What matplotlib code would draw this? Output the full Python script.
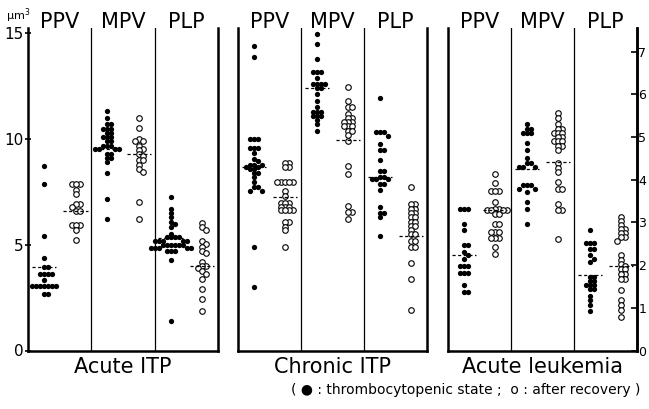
import matplotlib
matplotlib.use("Agg")
import matplotlib.pyplot as plt
import matplotlib.transforms as mtransforms
import numpy as np

plt.rcParams['font.family'] = ['DejaVu Sans']

# ---------------- data (values in µm³ on the left scale) ----------------
panel_titles = ["Acute ITP", "Chronic ITP", "Acute leukemia"]
column_labels = ["PPV", "MPV", "PLP"]

# Acute ITP
aitp_ppv_f = [8.72, 7.89, 5.40, 4.39, 3.94, 3.94, 3.63, 3.63, 3.63, 3.63, 3.35,
              3.03, 3.03, 3.03, 3.03, 3.03, 3.03, 3.03, 2.65, 2.65]
aitp_ppv_o = [7.89, 7.89, 7.89, 7.6, 7.42, 6.94, 6.94, 6.78, 6.59, 6.59,
              5.96, 5.96, 5.96, 5.71, 5.24]
aitp_mpv_f = [11.35, 11.0, 10.7, 10.7, 10.5, 10.5, 10.5, 10.3, 10.3, 10.1, 10.1, 10.1,
              9.9, 9.9, 9.7, 9.7, 9.7, 9.55, 9.55, 9.55, 9.55, 9.3, 9.3, 9.1, 9.1,
              8.9, 8.4, 7.15, 6.2]
aitp_mpv_o = [11.0, 10.55, 10.0, 9.9, 9.9, 9.7, 9.55, 9.5, 9.3, 9.2, 9.0, 9.0,
              8.8, 8.6, 8.45, 7.02, 6.23]
aitp_plp_f = [7.26, 6.7, 6.5, 6.3, 6.1, 6.0, 5.84, 5.53, 5.36, 5.36, 5.36, 5.36,
              5.2, 5.2, 5.2, 5.2, 5.2, 5.0, 5.0, 5.0, 5.0, 5.0, 5.0,
              4.85, 4.85, 4.85, 4.85, 4.85, 4.7, 4.7, 4.7, 4.26, 1.39]
aitp_plp_o = [6.03, 5.84, 5.68, 5.2, 5.05, 4.9, 4.73, 4.6, 4.18, 3.98, 3.98, 3.9,
              3.75, 3.6, 3.4, 2.92, 2.45, 1.85]
aitp_means_f = [3.96, 9.55, 5.33]
aitp_means_o = [6.6, 9.28, 3.98]

# Chronic ITP
citp_ppv_f = [14.4, 13.9, 10.0, 10.0, 10.0, 9.6, 9.6, 9.6, 9.34, 9.07, 8.96,
              8.8, 8.8, 8.8, 8.68, 8.68, 8.6, 8.6, 8.4, 8.4, 8.2, 7.95, 7.73, 7.73,
              7.57, 7.57, 4.92, 3.0]
citp_ppv_o = [8.86, 8.86, 8.68, 8.68, 7.97, 7.97, 7.97, 7.97, 7.97, 7.57, 7.3,
              6.97, 6.97, 6.97, 6.8, 6.8, 6.8, 6.63, 6.63, 6.63, 6.63,
              6.07, 6.07, 5.85, 5.68, 4.92]
citp_mpv_f = [14.99, 14.48, 13.8, 13.2, 13.2, 13.2, 12.9, 12.6, 12.6, 12.6, 12.6,
              12.43, 12.43, 12.15, 11.8, 11.5, 11.3, 11.3, 11.3, 11.1, 11.1, 11.1,
              10.9, 10.7, 10.4]
citp_mpv_o = [12.49, 11.8, 11.5, 11.5, 11.2, 11.0, 11.0, 10.8, 10.8, 10.8,
              10.6, 10.6, 10.6, 10.4, 10.4, 10.2, 9.9, 8.75, 8.36, 6.86, 6.55, 6.55, 6.2]
citp_plp_f = [11.96, 10.33, 10.33, 10.33, 10.17, 9.78, 9.47, 9.47, 9.0, 8.5, 8.5,
              8.23, 8.23, 8.1, 8.1, 8.1, 7.9, 7.9, 7.6, 6.78, 6.5, 6.5, 6.3, 5.44]
citp_plp_o = [7.76, 6.95, 6.95, 6.7, 6.7, 6.5, 6.5, 6.3, 6.3, 6.1, 6.1, 5.9, 5.9,
              5.7, 5.5, 5.5, 5.2, 5.2, 4.9, 4.9, 4.13, 3.39, 1.93]
citp_means_f = [8.68, 12.43, 8.23]
citp_means_o = [7.26, 9.97, 5.44]

# Acute leukemia
al_ppv_f = [6.7, 6.7, 6.7, 6.0, 5.7, 4.97, 4.97, 4.65, 4.5, 4.34, 4.02, 4.02, 4.02,
            3.66, 3.66, 3.66, 3.08, 2.76, 2.76]
al_ppv_o = [8.36, 7.92, 7.57, 7.57, 7.57, 7.02, 6.7, 6.7, 6.63, 6.63, 6.63, 6.63,
            6.45, 6.45, 6.0, 6.0, 5.6, 5.6, 5.6, 5.3, 5.3, 5.3, 4.89, 4.58]
al_mpv_f = [10.73, 10.5, 10.5, 10.3, 10.3, 10.3, 9.8, 9.47, 9.1, 8.85, 8.85,
            8.7, 8.7, 8.7, 7.81, 7.81, 7.81, 7.65, 7.65, 7.49, 7.02, 6.7, 6.0]
al_mpv_o = [11.23, 11.0, 10.7, 10.5, 10.5, 10.3, 10.3, 10.3, 10.1, 10.1, 9.9, 9.9, 9.9,
            9.7, 9.7, 9.5, 8.85, 8.65, 8.45, 7.97, 7.65, 7.65, 6.94, 6.63, 6.63, 5.28]
al_plp_f = [5.68, 5.08, 5.08, 5.08, 4.8, 4.8, 4.5, 4.35, 4.2, 3.5, 3.5, 3.3, 3.3,
            3.1, 3.1, 3.1, 2.9, 2.9, 2.6, 2.4, 2.13, 1.89]
al_plp_o = [6.34, 6.15, 5.95, 5.75, 5.75, 5.55, 5.55, 5.35, 5.35, 5.2, 4.5, 4.3,
            4.1, 4.02, 3.85, 3.85, 3.63, 3.63, 3.4, 3.4, 2.84, 2.37, 2.13, 1.9, 1.58]
al_means_f = [4.5, 8.6, 3.55]
al_means_o = [6.63, 8.91, 4.02]

left_ticks = [0, 5, 10, 15]
right_ticks = [0, 1, 2, 3, 4, 5, 6, 7]
right_scale = 2.02  # left units per right-axis unit

footnote = "( \u25cf : thrombocytopenic state ;  o : after recovery )"

panels = [
    ([aitp_ppv_f, aitp_mpv_f, aitp_plp_f], [aitp_ppv_o, aitp_mpv_o, aitp_plp_o],
     aitp_means_f, aitp_means_o),
    ([citp_ppv_f, citp_mpv_f, citp_plp_f], [citp_ppv_o, citp_mpv_o, citp_plp_o],
     citp_means_f, citp_means_o),
    ([al_ppv_f, al_mpv_f, al_plp_f], [al_ppv_o, al_mpv_o, al_plp_o],
     al_means_f, al_means_o),
]

# ---------------- layout ----------------
W, H = 649, 409
fig = plt.figure(figsize=(W / 100, H / 100), dpi=100)
ymax = 15.26
y0_px = 350.5
ppu_y = (y0_px - 28) / ymax

panel_px = [(28, 218), (238, 427), (448, 637)]


def swarm(values, ppu_x, d=4.0):
    placed = []
    xs = np.zeros(len(values))
    order = np.argsort(values)[::-1]
    for i in order:
        ypx = values[i] * ppu_y
        for k in [0, 1, -1, 2, -2, 3, -3, 4, -4, 5, -5, 6, -6]:
            xpx = k * d
            ok = all((xpx - px) ** 2 + (ypx - py) ** 2 >= (d * 0.85) ** 2
                     for px, py in placed)
            if ok:
                break
        placed.append((xpx, ypx))
        xs[i] = xpx / ppu_x
    return xs


axes = []
for pi, ((l, r), (fil, opn, mf, mo)) in enumerate(zip(panel_px, panels)):
    ax = fig.add_axes([l / W, (H - y0_px) / H, (r - l) / W, (y0_px - 28) / H])
    axes.append(ax)
    ax.set_xlim(0, 6)
    ax.set_ylim(0, ymax)
    ppu_x = (r - l) / 6.0
    ax.spines['top'].set_visible(False)
    for s in ['left', 'right', 'bottom']:
        ax.spines[s].set_linewidth(1.8)
    ax.axvline(2, color='k', lw=0.9)
    ax.axvline(4, color='k', lw=0.9)
    ax.set_xticks([])
    trans = mtransforms.blended_transform_factory(ax.transData, ax.transAxes)
    for ci in range(3):
        xc_f = 2 * ci + 0.5
        xc_o = 2 * ci + 1.5
        vf = np.array(fil[ci])
        vo = np.array(opn[ci])
        ax.plot(xc_f + swarm(vf, ppu_x), vf, 'o', ms=3.8, color='k', mew=0, clip_on=False)
        ax.plot(xc_o + swarm(vo, ppu_x), vo, 'o', ms=4.0, mfc='white', mec='k', mew=0.8,
                clip_on=False)
        ax.plot([xc_f - 0.38, xc_f + 0.38], [mf[ci], mf[ci]], color='k', lw=0.9,
                ls=(0, (2.5, 2)))
        ax.plot([xc_o - 0.38, xc_o + 0.38], [mo[ci], mo[ci]], color='k', lw=0.9,
                ls=(0, (2.5, 2)))
        ax.text(2 * ci + 1, 1.02, column_labels[ci], transform=trans, ha='center',
                va='center', fontsize=15)
    ax.text(0.5, -0.05, panel_titles[pi], transform=ax.transAxes, ha='center',
            va='center', fontsize=15)
    if pi == 0:
        ax.set_yticks(left_ticks)
        ax.set_yticklabels([str(t) for t in left_ticks], fontsize=11)
        ax.tick_params(axis='y', direction='inout', length=5, width=1.2, pad=1)
    else:
        ax.set_yticks([])
    if pi == 2:
        sec = ax.secondary_yaxis('right', functions=(lambda v: v / right_scale,
                                                     lambda r: r * right_scale))
        sec.set_yticks(right_ticks)
        sec.set_yticklabels([str(t) for t in right_ticks], fontsize=9)
        sec.tick_params(direction='in', length=4, width=1.2, pad=1)
        sec.spines['right'].set_linewidth(1.8)

fig.text(6 / W, 1 - 16 / H, "\u03bcm$^3$", fontsize=8, ha='left', va='center')
fig.text(640 / W, 1 - 390 / H, footnote, fontsize=10, ha='right', va='center')

fig.savefig("out.png", dpi=100)
